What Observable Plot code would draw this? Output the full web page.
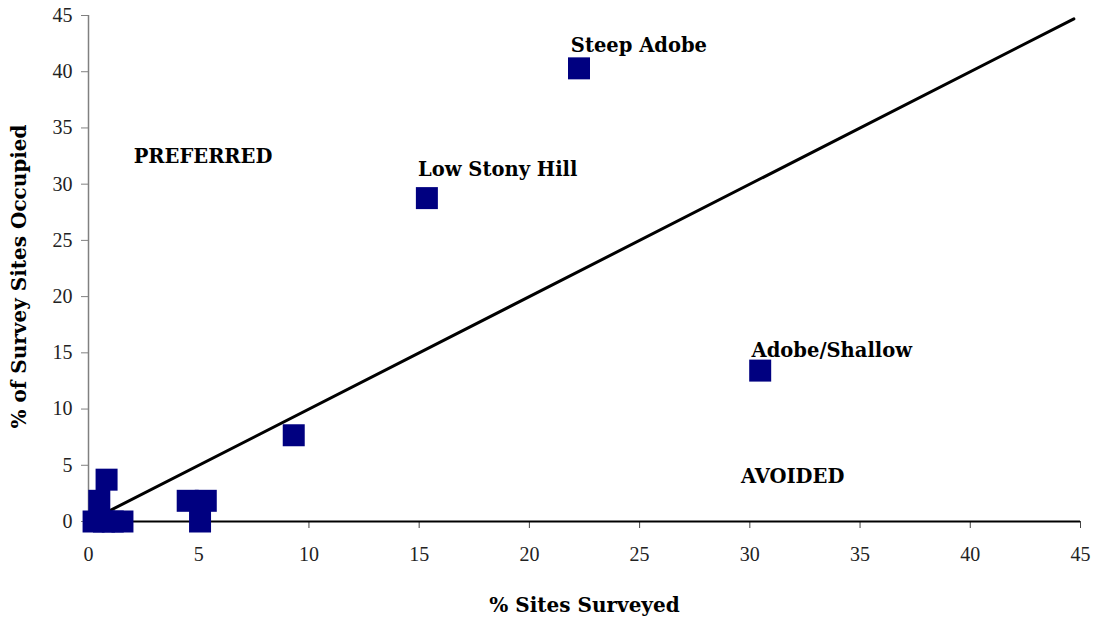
<!DOCTYPE html>
<html>
<head>
<meta charset="utf-8">
<script src="https://cdn.jsdelivr.net/npm/d3@7"></script>
<script src="https://cdn.jsdelivr.net/npm/@observablehq/plot@0.6"></script>
<style>
  html, body { margin: 0; padding: 0; background: #fff; }
  #chart svg { display: block; }
</style>
</head>
<body>
<div id="chart"></div>
<script>
// % of sites surveyed (x) and % of survey sites occupied (y) per landform
const surveyed = [22.25, 15.35, 30.47, 9.31, 0.82, 0.49, 0.23, 0.7, 1.1, 1.54, 4.5, 5.32, 5.06];
const occupied = [40.3, 28.76, 13.42, 7.67, 3.72, 1.84, 0, 0, 0, 0, 1.84, 1.84, 0];

// named landform labels (text placed in data units)
const labelText = ["Steep Adobe", "Low Stony Hill", "Adobe/Shallow"];
const labelX = [21.88, 14.95, 30.08];
const labelY = [42.3, 31.3, 15.2];

// region labels
const regionText = ["PREFERRED", "AVOIDED"];
const regionX = [2.05, 29.6];
const regionY = [32.4, 3.95];

// 1:1 reference line
const lineX = [0, 44.7];
const lineY = [0, 44.7];

const xTicks = [0, 5, 10, 15, 20, 25, 30, 35, 40, 45];
const yTicks = [0, 5, 10, 15, 20, 25, 30, 35, 40, 45];

const points = surveyed.map((x, i) => ({x, y: occupied[i]}));
const labels = labelText.map((t, i) => ({t, x: labelX[i], y: labelY[i]}));
const regions = regionText.map((t, i) => ({t, x: regionX[i], y: regionY[i]}));
const diag = lineX.map((x, i) => ({x, y: lineY[i]}));

const serifBold = "'DejaVu Serif', serif";
const tickFont = "'Liberation Serif', serif";

const chart = Plot.plot({
  width: 1098,
  height: 623,
  marginLeft: 88,
  marginRight: 18,
  marginTop: 15,
  marginBottom: 102,
  style: {background: "#fff", fontFamily: tickFont},
  x: {domain: [0, 45]},
  y: {domain: [0, 45]},
  marks: [
    Plot.ruleX([0], {stroke: "#808080", strokeWidth: 1.5}),
    Plot.axisY({ticks: yTicks, tickSize: 7, tickPadding: 9, stroke: "#808080", strokeOpacity: 1, fontSize: 20, fill: "#222", label: null, fontFamily: tickFont}),
    Plot.axisX({ticks: xTicks, tickSize: 7, tickPadding: 18, stroke: "#444", strokeOpacity: 1, fontSize: 20, fill: "#222", label: null, fontFamily: tickFont}),
    Plot.ruleY([0], {stroke: "#000", strokeWidth: 2}),
    Plot.line(diag, {x: "x", y: "y", stroke: "#000", strokeWidth: 3}),
    Plot.dot(points, {x: "x", y: "y", symbol: "square", r: 22 / Math.sqrt(Math.PI), fill: "#000080", stroke: null}),
    Plot.text(labels, {x: "x", y: "y", text: "t", textAnchor: "start", fontSize: 19.5, fontWeight: "bold", fill: "#000", fontFamily: serifBold}),
    Plot.text(regions, {x: "x", y: "y", text: "t", textAnchor: "start", fontSize: 19.5, fontWeight: "bold", fill: "#000", fontFamily: serifBold, letterSpacing: "0.5px"}),
    Plot.text(["% Sites Surveyed"], {frameAnchor: "bottom", textAnchor: "middle", dy: 90, fontSize: 20, fontWeight: "bold", fill: "#000", fontFamily: serifBold}),
    Plot.text(["% of Survey Sites Occupied"], {frameAnchor: "left", textAnchor: "middle", dx: -69, dy: 8, rotate: -90, fontSize: 20, fontWeight: "bold", fill: "#000", fontFamily: serifBold})
  ]
});
document.getElementById("chart").appendChild(chart);
</script>
</body>
</html>
